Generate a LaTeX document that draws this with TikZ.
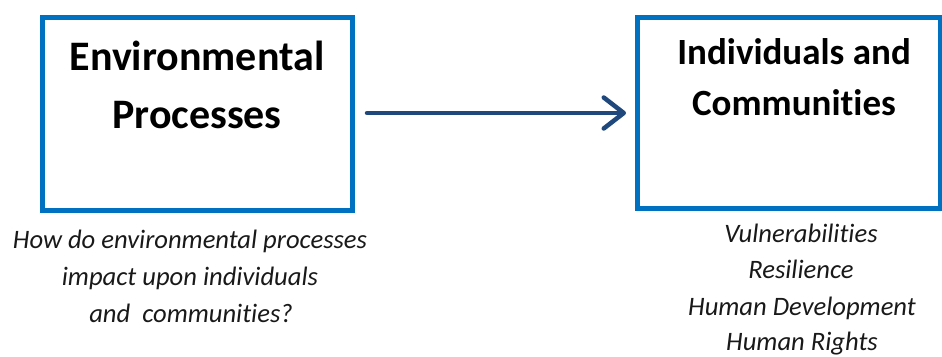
\documentclass[tikz,border=0pt]{standalone}
\usepackage{fontspec}
\setmainfont{Carlito}[Ligatures=NoCommon]
\usetikzlibrary{arrows.meta,shadows}

\definecolor{boxblue}{HTML}{0070C0}
\definecolor{arrowblue}{HTML}{1F497D}

\tikzset{
  framebox/.style={draw=boxblue, line width=5pt, fill=white, rectangle, inner sep=0pt,
    drop shadow={shadow xshift=2pt, shadow yshift=-2pt, opacity=0.25, fill=black!60}},
  titleL/.style={anchor=base, inner sep=0pt, font=\fontsize{42}{50}\selectfont\bfseries},
  titleR/.style={anchor=base, inner sep=0pt, font=\fontsize{37}{44}\selectfont\bfseries},
  caption/.style={anchor=base, inner sep=0pt, font=\fontsize{26.6}{32}\selectfont\itshape, text=black!90},
  flow/.style={draw=arrowblue, line width=4.5pt, line cap=round,
    -{Straight Barb[length=20pt, width=31pt, line cap=round, line join=round]}},
}

\begin{document}
\begin{tikzpicture}[x=1pt, y=-1pt]
  \useasboundingbox (0,0) rectangle (942,356);

  % the two boxes
  \node[framebox, minimum width=310pt, minimum height=193pt] (env) at (197.5,113.75) {};
  \node[framebox, minimum width=302.5pt, minimum height=190.5pt] (ind) at (788.75,112.75) {};

  % box titles
  \node[titleL] (envA) at (197,70) {Environmental};
  \node[titleL] (envB) at (197,128) {Processes};
  \node[titleR] (indA) at (794,64) {Individuals and};
  \node[titleR] (indB) at (794,115) {Communities};

  % connector between the boxes
  \coordinate (arrS) at (367,113);
  \coordinate (arrE) at (626,113);
  \draw[flow] (arrS) -- (arrE);

  % question under the left box
  \node[caption] (q1) at (190,248) {How do environmental processes};
  \node[caption] (q2) at (190,285) {impact upon individuals};
  \node[caption] (q3) at (191,322) {and\ \ communities?};

  % themes under the right box
  \node[caption] (t1) at (801,242) {Vulnerabilities};
  \node[caption] (t2) at (801,278) {Resilience};
  \node[caption] (t3) at (802,315) {Human Development};
  \node[caption] (t4) at (802,350) {Human Rights};
\end{tikzpicture}
\end{document}
